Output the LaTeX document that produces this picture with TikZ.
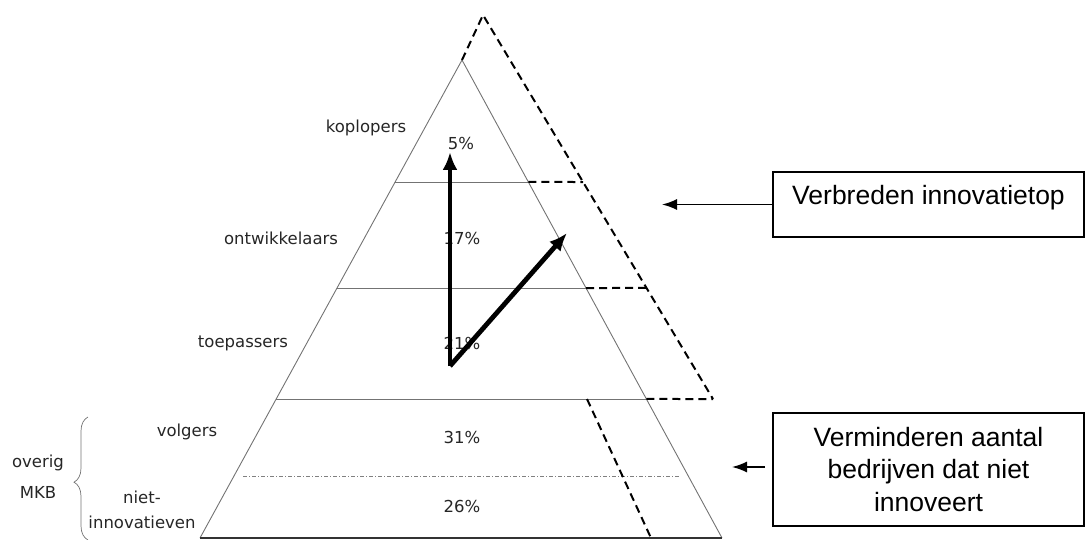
\documentclass[tikz,border=0pt]{standalone}
\usepackage{fontspec}
\setmainfont{DejaVu Sans}
\newfontfamily\boxfont{Liberation Sans}
\usetikzlibrary{arrows.meta, calc, decorations.pathreplacing}

\begin{document}
\begin{tikzpicture}[x=1pt,y=-1pt,>={Latex[length=15pt,width=11pt]}]

	\tikzset{layer line/.style={draw=black!55, line width=0.9pt}}
	\tikzset{wide line/.style={line width=2pt, dash pattern=on 8pt off 5pt}}
	\tikzset{layer text/.style={font=\fontsize{16.5}{25}\selectfont,
			text=black!85, inner sep=0pt}}
	\tikzset{goal box/.style={draw, line width=2pt, minimum width=311pt,
			font=\boxfont\fontsize{26.5}{32.5}\selectfont, align=center}}

	\useasboundingbox (0,0) rectangle (1087,540);

	% pyramid
	\coordinate (T) at (462,60);
	\coordinate (BL) at (200,538);
	\coordinate (BR) at (722,538);
	\draw[layer line] (BL) -- (T) -- (BR);
	\draw[black!80, line width=1.2pt] (BL) -- (BR);
	\foreach \t/\n in {0.2552/1, 0.4770/2, 0.7092/3}
		\draw[layer line] ($(T)!\t!(BL)$) coordinate (L\n) -- ($(T)!\t!(BR)$) coordinate (R\n);
	\draw[black!50, line width=0.6pt, dash pattern=on 4pt off 2pt on 1pt off 2pt]
		(243,476) -- (680,476);

	% wider top
	\coordinate (DT) at (483,15);
	\coordinate (DR) at (713,399);
	\draw[wide line] (T) -- (DT) -- (DR);
	\draw[wide line] (R1) -- ($(DT)!0.4349!(DR)$);
	\draw[wide line] (R2) -- ($(DT)!0.7109!(DR)$);
	\draw[wide line] (R3) -- (DR);
	\coordinate (DB1) at (587,399);
	\coordinate (DB2) at (651,538);
	\draw[wide line] (DB1) -- (DB2);

	% layers
	\node[layer text] (K) at (366,128) {koplopers};
	\node[layer text] (O) at (281,238) {ontwikkelaars};
	\node[layer text] (P) at (243,343) {toepassers};
	\node[layer text] (V) at (187,432) {volgers};
	\node[layer text, align=center] (N) at (142,510) {niet-\\innovatieven};
	\node[layer text] (M1) at (38,463) {overig};
	\node[layer text] (M2) at (38,492) {MKB};
	\draw[black!55, line width=0.7pt, decorate,
		decoration={brace, amplitude=14pt, aspect=0.47}] (88,540) -- (88,417);

	\node[layer text] (P1) at (461,143) {5\%};
	\node[layer text] (P2) at (462,238) {17\%};
	\node[layer text] (P3) at (462,343) {21\%};
	\node[layer text] (P4) at (462,437) {31\%};
	\node[layer text] (P5) at (462,506) {26\%};

	% growth arrows
	\coordinate (S) at (450,366);
	\coordinate (U) at (450,152);
	\coordinate (W) at (567,233);
	\draw[line width=4.8pt, -{Latex[length=18pt,width=15pt]}] (S) -- (U);
	\draw[line width=4.8pt, -{Latex[length=18pt,width=15pt]}] (S) -- (W);

	% goals
	\node[goal box, minimum height=65pt, text depth=19pt] (G1) at (928.5,204.5)
		{Verbreden innovatietop};
	\node[goal box, minimum height=113pt] (G2) at (928.5,469.5)
		{Verminderen aantal\\bedrijven dat niet\\innoveert};
	\coordinate (A1) at (662,204.5);
	\coordinate (A2) at (732,467);
	\draw[->, line width=1.5pt] (G1) -- (A1);
	\draw[->, line width=1.5pt, shorten <=7pt] (G2.west |- A2) -- (A2);
\end{tikzpicture}
\end{document}
